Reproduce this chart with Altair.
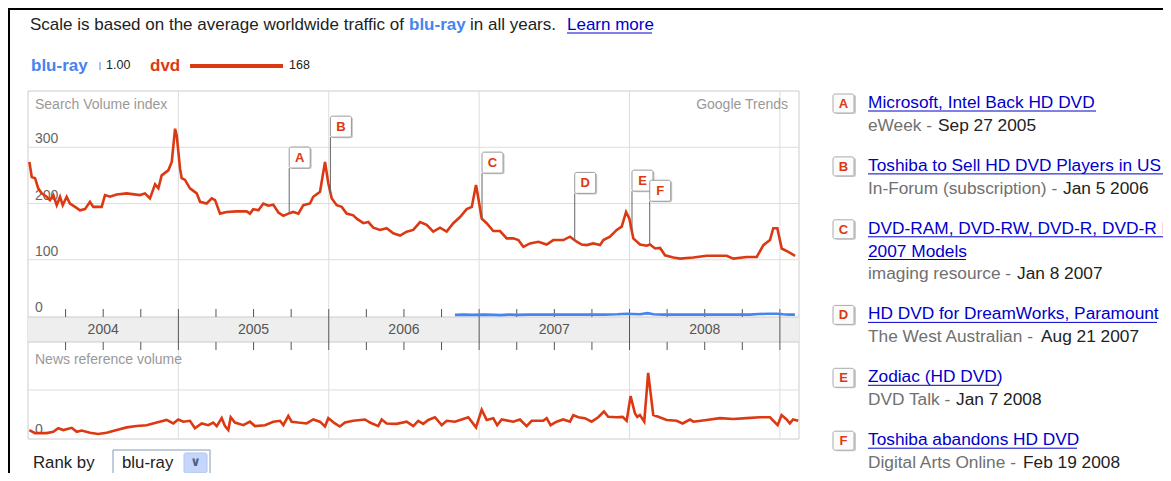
import altair as alt
import numpy as np
import pandas as pd

FONT = "Liberation Sans"
RED = "#dc3912"
BLUE = "#4684ee"
LINK = "#0000cc"
OX, OY = 8, 8   # page margin

# ---------------- data ----------------
dvd_year = [2004.009, 2004.025, 2004.047, 2004.068, 2004.091, 2004.124, 2004.146, 2004.168, 2004.191, 2004.213,
            2004.231, 2004.257, 2004.279, 2004.313, 2004.346, 2004.379, 2004.412, 2004.434, 2004.490, 2004.512,
            2004.545, 2004.590, 2004.656, 2004.745, 2004.778, 2004.811, 2004.845, 2004.867, 2004.889, 2004.933,
            2004.956, 2004.978, 2004.989, 2005.011, 2005.022, 2005.044, 2005.077, 2005.122, 2005.144, 2005.188,
            2005.222, 2005.244, 2005.277, 2005.321, 2005.388, 2005.454, 2005.476, 2005.498, 2005.532, 2005.565,
            2005.598, 2005.631, 2005.665, 2005.698, 2005.731, 2005.764, 2005.798, 2005.831, 2005.875, 2005.897,
            2005.942, 2005.975, 2005.997, 2006.020, 2006.053, 2006.086, 2006.119, 2006.163, 2006.186, 2006.230,
            2006.263, 2006.296, 2006.341, 2006.385, 2006.429, 2006.474, 2006.518, 2006.562, 2006.607, 2006.651,
            2006.695, 2006.740, 2006.784, 2006.828, 2006.873, 2006.917, 2006.951, 2006.979, 2006.995, 2007.017,
            2007.050, 2007.094, 2007.139, 2007.183, 2007.227, 2007.261, 2007.294, 2007.338, 2007.394, 2007.449,
            2007.493, 2007.560, 2007.604, 2007.649, 2007.682, 2007.715, 2007.759, 2007.804, 2007.826, 2007.870,
            2007.915, 2007.948, 2007.977, 2007.999, 2008.025, 2008.070, 2008.114, 2008.136, 2008.170, 2008.203,
            2008.236, 2008.291, 2008.336, 2008.424, 2008.513, 2008.646, 2008.690, 2008.779, 2008.846, 2008.890,
            2008.934, 2008.956, 2008.983, 2009.012, 2009.056, 2009.101]
dvd_value = [274, 247, 245, 227, 218, 212, 206, 215, 197, 212,
             197, 212, 200, 194, 188, 190, 203, 194, 194, 215,
             212, 216, 218, 215, 218, 209, 234, 227, 250, 259,
             274, 333, 321, 262, 245, 242, 227, 218, 203, 200,
             209, 206, 182, 185, 186, 186, 182, 190, 188, 200,
             196, 198, 184, 178, 182, 185, 182, 197, 200, 212,
             221, 274, 236, 209, 197, 194, 182, 179, 173, 165,
             167, 157, 153, 156, 147, 143, 150, 153, 167, 162,
             150, 157, 150, 165, 176, 190, 194, 233, 209, 173,
             165, 151, 151, 138, 138, 135, 123, 129, 132, 127,
             135, 135, 141, 132, 127, 126, 129, 126, 135, 141,
             153, 159, 185, 173, 138, 127, 125, 127, 120, 121,
             108, 104, 102, 104, 107, 107, 102, 105, 105, 126,
             135, 156, 156, 120, 114, 107]

blu_year = [2006.839, 2006.90, 2006.96, 2007.03, 2007.10, 2007.14, 2007.20, 2007.25, 2007.33, 2007.42,
            2007.50, 2007.58, 2007.67, 2007.75, 2007.83, 2007.92, 2007.98, 2008.02, 2008.07, 2008.12,
            2008.16, 2008.22, 2008.30, 2008.40, 2008.50, 2008.60, 2008.70, 2008.80, 2008.86, 2008.92,
            2008.98, 2009.02, 2009.06, 2009.10]
blu_value = [2, 2.5, 2, 2.5, 2, 1.5, 2.5, 2, 2.5, 2.5,
             2.5, 2.5, 2.5, 2.5, 2.5, 3, 4, 3.5, 3, 5,
             3, 2.5, 2.5, 2.5, 2.5, 2.5, 2.5, 2.5, 3.5, 4,
             4, 3, 2.5, 2.5]

news_year = [2004.009, 2004.047, 2004.124, 2004.168, 2004.201, 2004.235, 2004.291, 2004.324, 2004.357, 2004.412,
             2004.467, 2004.523, 2004.590, 2004.656, 2004.723, 2004.789, 2004.856, 2004.922, 2004.966, 2004.999,
             2005.033, 2005.077, 2005.110, 2005.155, 2005.199, 2005.232, 2005.255, 2005.288, 2005.310, 2005.332,
             2005.348, 2005.376, 2005.432, 2005.476, 2005.509, 2005.576, 2005.631, 2005.676, 2005.698, 2005.731,
             2005.753, 2005.797, 2005.853, 2005.897, 2005.941, 2005.975, 2005.997, 2006.041, 2006.074, 2006.108,
             2006.163, 2006.241, 2006.274, 2006.329, 2006.352, 2006.385, 2006.451, 2006.518, 2006.562, 2006.595,
             2006.628, 2006.662, 2006.706, 2006.751, 2006.784, 2006.839, 2006.884, 2006.928, 2006.979, 2007.017,
             2007.050, 2007.094, 2007.120, 2007.150, 2007.227, 2007.271, 2007.316, 2007.349, 2007.426, 2007.449,
             2007.475, 2007.515, 2007.559, 2007.604, 2007.626, 2007.659, 2007.703, 2007.748, 2007.792, 2007.830,
             2007.858, 2007.914, 2007.954, 2007.981, 2008.007, 2008.036, 2008.051, 2008.069, 2008.098, 2008.124,
             2008.158, 2008.191, 2008.247, 2008.313, 2008.353, 2008.402, 2008.424, 2008.513, 2008.601, 2008.690,
             2008.779, 2008.867, 2008.934, 2008.985, 2009.011, 2009.045, 2009.066, 2009.088, 2009.122]
news_value = [0.09, 0.02, 0.02, 0.05, 0.13, 0.09, 0.14, 0.05, 0.08, 0.03,
              0.00, 0.03, 0.09, 0.15, 0.18, 0.20, 0.26, 0.32, 0.24, 0.33,
              0.28, 0.30, 0.13, 0.24, 0.20, 0.26, 0.18, 0.36, 0.18, 0.09,
              0.38, 0.26, 0.20, 0.28, 0.18, 0.20, 0.28, 0.30, 0.20, 0.41,
              0.28, 0.26, 0.24, 0.33, 0.28, 0.17, 0.36, 0.24, 0.17, 0.26,
              0.30, 0.33, 0.26, 0.18, 0.33, 0.24, 0.23, 0.28, 0.18, 0.30,
              0.23, 0.32, 0.38, 0.20, 0.30, 0.28, 0.33, 0.38, 0.15, 0.55,
              0.32, 0.36, 0.20, 0.33, 0.28, 0.33, 0.18, 0.30, 0.30, 0.36,
              0.20, 0.28, 0.33, 0.28, 0.43, 0.38, 0.36, 0.28, 0.38, 0.51,
              0.39, 0.38, 0.39, 0.30, 0.86, 0.47, 0.39, 0.43, 0.28, 1.39,
              0.43, 0.39, 0.32, 0.30, 0.24, 0.33, 0.28, 0.32, 0.36, 0.34,
              0.36, 0.38, 0.38, 0.20, 0.43, 0.33, 0.24, 0.33, 0.30]

svi_ticks = [0, 100, 200, 300]
years = [2004, 2005, 2006, 2007, 2008]
year_labels = ["2004", "2005", "2006", "2007", "2008"]

event_letter = ["A", "B", "C", "D", "E", "F"]
event_title = [["Microsoft, Intel Back HD DVD"],
               ["Toshiba to Sell HD DVD Players in US"],
               ["DVD-RAM, DVD-RW, DVD-R, DVD-R DL", "2007 Models"],
               ["HD DVD for DreamWorks, Paramount"],
               ["Zodiac (HD DVD)"],
               ["Toshiba abandons HD DVD"]]
event_source = ["eWeek", "In-Forum (subscription)", "imaging resource",
                "The West Australian", "DVD Talk", "Digital Arts Online"]
event_date = ["Sep 27 2005", "Jan 5 2006", "Jan 8 2007", "Aug 21 2007", "Jan 7 2008", "Feb 19 2008"]
event_flag = [263, 318, 254, 218, 222, 204]   # level of the flag box on the SVI scale

legend_terms = ["blu-ray", "dvd"]
legend_values = ["1.00", "168"]

# ---------------- layout (page pixels) ----------------
title_w = {"A": [228], "B": [295], "C": [330, 98], "D": [289], "E": [131], "F": [209]}
date_x = [938, 1063, 1017, 1041, 956, 1023]

X = alt.Scale(domain=[2004.0, 2009.127], range=[28 - OX, 799 - OX])
YS = alt.Scale(domain=[0, 400], range=[316 - OY, 91 - OY])
YN = alt.Scale(domain=[0, 2], range=[434 - OY, 346 - OY])

one = pd.DataFrame({"k": [0]})


def T(s, x, y, size=14, color="#999999", weight="normal", align="left", font=FONT):
    return alt.Chart(pd.DataFrame({"t": [s]})).mark_text(
        align=align, baseline="middle", fontSize=size, color=color,
        fontWeight=weight, font=font).encode(
        x=alt.value(x - OX), y=alt.value(y - OY), text="t:N")


def HL(x1, x2, y, color, w=1):
    return alt.Chart(one).mark_rule(color=color, strokeWidth=w).encode(
        x=alt.value(x1 - OX), x2=alt.value(x2 - OX), y=alt.value(y - OY))


def VLN(x, y1, y2, color, w=1):
    return alt.Chart(one).mark_rule(color=color, strokeWidth=w).encode(
        x=alt.value(x - OX), y=alt.value(y1 - OY), y2=alt.value(y2 - OY))


def BOX(x1, x2, y1, y2, fill, stroke="transparent", r=0, sw=1):
    return alt.Chart(one).mark_rect(fill=fill, stroke=stroke, strokeWidth=sw, cornerRadius=r).encode(
        x=alt.value(x1 - OX), x2=alt.value(x2 - OX), y=alt.value(y1 - OY), y2=alt.value(y2 - OY))


layers = []

# outer black frame of the screenshot
layers.append(HL(8, 1171, 9, "#000000", 2))
layers.append(VLN(9, 8, 481, "#000000", 2))

# header
layers.append(T("Scale is based on the average worldwide traffic of", 30, 25, 17, "#222222"))
layers.append(T(legend_terms[0], 409, 25, 17, BLUE, "bold"))
layers.append(T("in all years.", 470, 25, 17, "#222222"))
layers.append(T("Learn more", 567, 25, 17, LINK))
layers.append(HL(567, 652, 33, LINK, 1))

# legend
layers.append(T(legend_terms[0], 31, 66, 17, BLUE, "bold"))
layers.append(VLN(100, 62, 70, "#a9c3f5", 2))
layers.append(T(legend_values[0], 106, 65, 12.5, "#222222"))
layers.append(T(legend_terms[1], 150, 66, 17, RED, "bold"))
layers.append(HL(190, 283, 66, RED, 4))
layers.append(T(legend_values[1], 289, 65, 12.5, "#222222"))

# chart frame and band
layers.append(BOX(28, 799, 91, 439, "#ffffff", "#cccccc"))
layers.append(BOX(28, 799, 317, 342, "#eeeeee"))
layers.append(HL(28, 799, 317, "#cccccc"))
layers.append(HL(28, 799, 342, "#cccccc"))

grid_df = pd.DataFrame({"v": [t for t in svi_ticks if t > 0]})
layers.append(alt.Chart(grid_df).mark_rule(color="#dddddd").encode(
    y=alt.Y("v:Q", scale=YS, axis=None), x=alt.value(28 - OX), x2=alt.value(799 - OX)))
layers.append(alt.Chart(pd.DataFrame({"v": [1.0]})).mark_rule(color="#dddddd").encode(
    y=alt.Y("v:Q", scale=YN, axis=None), x=alt.value(28 - OX), x2=alt.value(799 - OX)))

yl_df = pd.DataFrame({"yr": [y + 1 for y in years]})
layers.append(alt.Chart(yl_df).mark_rule(color="#dddddd").encode(
    x=alt.X("yr:Q", scale=X, axis=None), y=alt.value(91 - OY), y2=alt.value(309 - OY)))
layers.append(alt.Chart(yl_df).mark_rule(color="#dddddd").encode(
    x=alt.X("yr:Q", scale=X, axis=None), y=alt.value(350 - OY), y2=alt.value(439 - OY)))
layers.append(alt.Chart(yl_df).mark_rule(color="#555555").encode(
    x=alt.X("yr:Q", scale=X, axis=None), y=alt.value(309 - OY), y2=alt.value(350 - OY)))

q_df = pd.DataFrame({"q": [y + f for y in years for f in (0.25, 0.5, 0.75)]})
layers.append(alt.Chart(q_df).mark_rule(color="#555555").encode(
    x=alt.X("q:Q", scale=X, axis=None), y=alt.value(309 - OY), y2=alt.value(317 - OY)))
layers.append(alt.Chart(q_df).mark_rule(color="#555555").encode(
    x=alt.X("q:Q", scale=X, axis=None), y=alt.value(342 - OY), y2=alt.value(350 - OY)))

ylab_df = pd.DataFrame({"mid": [y + 0.5 for y in years], "lab": year_labels})
layers.append(alt.Chart(ylab_df).mark_text(font=FONT, fontSize=14, color="#555555", baseline="middle").encode(
    x=alt.X("mid:Q", scale=X, axis=None), y=alt.value(330 - OY), text="lab:N"))

# axis labels
tick_df = pd.DataFrame({"v": svi_ticks, "lab": [str(t) for t in svi_ticks]})
layers.append(alt.Chart(tick_df).mark_text(font=FONT, fontSize=14, color="#666666", align="left",
                                           baseline="middle", dy=-8).encode(
    x=alt.value(35 - OX), y=alt.Y("v:Q", scale=YS, axis=None), text="lab:N"))
layers.append(T("Search Volume index", 35, 105, 14, "#999999"))
layers.append(T("Google Trends", 788, 105, 14, "#999999", align="right"))
layers.append(T("News reference volume", 35, 360, 14, "#999999"))
layers.append(alt.Chart(pd.DataFrame({"v": [0], "lab": ["0"]})).mark_text(
    font=FONT, fontSize=14, color="#666666", align="left", baseline="middle", dy=-4).encode(
    x=alt.value(35 - OX), y=alt.Y("v:Q", scale=YN, axis=None), text="lab:N"))

# series
dvd_df = pd.DataFrame({"yr": dvd_year, "v": dvd_value})
blu_df = pd.DataFrame({"yr": blu_year, "v": blu_value})
news_df = pd.DataFrame({"yr": news_year, "v": news_value})
layers.append(alt.Chart(dvd_df).mark_line(color=RED, strokeWidth=2.6).encode(
    x=alt.X("yr:Q", scale=X, axis=None), y=alt.Y("v:Q", scale=YS, axis=None)))
layers.append(alt.Chart(blu_df).mark_line(color=BLUE, strokeWidth=2.6).encode(
    x=alt.X("yr:Q", scale=X, axis=None), y=alt.Y("v:Q", scale=YS, axis=None)))
layers.append(alt.Chart(news_df).mark_line(color=RED, strokeWidth=2.6).encode(
    x=alt.X("yr:Q", scale=X, axis=None), y=alt.Y("v:Q", scale=YN, axis=None)))

# event flags on the chart
ts = pd.to_datetime(event_date, format="%b %d %Y")
ev_year = [t.year + (t.dayofyear - 1) / 365.0 for t in ts]
ev_val = list(np.interp(ev_year, dvd_year, dvd_value))
ev_df = pd.DataFrame({"letter": event_letter, "yr": ev_year, "val": ev_val, "flag": event_flag})
layers.append(alt.Chart(ev_df).mark_rule(color="#666666", strokeWidth=1).encode(
    x=alt.X("yr:Q", scale=X, axis=None), y=alt.Y("val:Q", scale=YS, axis=None), y2="flag:Q"))
layers.append(alt.Chart(ev_df).mark_rect(width=21, height=21, xOffset=12, yOffset=-9.5,
                                         color="#c8c8c8", cornerRadius=2).encode(
    x=alt.X("yr:Q", scale=X, axis=None), y=alt.Y("flag:Q", scale=YS, axis=None)))
layers.append(alt.Chart(ev_df).mark_rect(width=21, height=21, xOffset=10.5, yOffset=-10.5,
                                         fill="#ffffff", stroke="#999999", strokeWidth=1,
                                         cornerRadius=2).encode(
    x=alt.X("yr:Q", scale=X, axis=None), y=alt.Y("flag:Q", scale=YS, axis=None)))
layers.append(alt.Chart(ev_df).mark_text(dx=10.5, dy=-10.5, font=FONT, fontSize=13, fontWeight="bold",
                                         color=RED, baseline="middle").encode(
    x=alt.X("yr:Q", scale=X, axis=None), y=alt.Y("flag:Q", scale=YS, axis=None), text="letter:N"))

# right-hand event list
y0, lh, gap = 103, 22.7, 17.5
line = 0
for i, letter in enumerate(event_letter):
    ty = y0 + lh * line + gap * i
    layers.append(BOX(835, 856, ty - 8, ty + 11, "#cccccc", r=2))
    layers.append(BOX(833, 854, ty - 9, ty + 10, "#fbfbfb", "#aaaaaa", r=2))
    layers.append(T(letter, 843.5, ty + 1, 13, RED, "bold", align="center"))
    for j, tl in enumerate(event_title[i]):
        yy = y0 + lh * line + gap * i
        layers.append(T(tl, 868, yy, 17.3, LINK))
        layers.append(HL(868, 868 + title_w[letter][j], yy + 8, LINK, 1))
        line += 1
    sy = y0 + lh * line + gap * i
    layers.append(T(event_source[i] + " -", 868, sy, 17.3, "#707070"))
    layers.append(T(event_date[i], date_x[i], sy, 17.3, "#222222"))
    line += 1

# rank by control
layers.append(T("Rank by", 33, 463, 16.8, "#222222"))
layers.append(BOX(113, 210, 450, 490, "#ffffff", "#7f9db9"))
layers.append(T(legend_terms[0], 122, 463, 16.8, "#222222"))
layers.append(BOX(184, 207, 453, 473, "#c6d6fb", "#b2c5ef", r=2))
layers.append(T("\u2228", 195.5, 462, 13, "#4d6185", "bold", align="center", font="DejaVu Sans"))

chart = alt.layer(*layers).resolve_scale(x="independent", y="independent").properties(
    width=1155, height=465, autosize=alt.AutoSizeParams(type="none"), padding=0
).configure_view(stroke="transparent")

chart.save("out.html", embed_options={"renderer": "svg", "actions": False})
